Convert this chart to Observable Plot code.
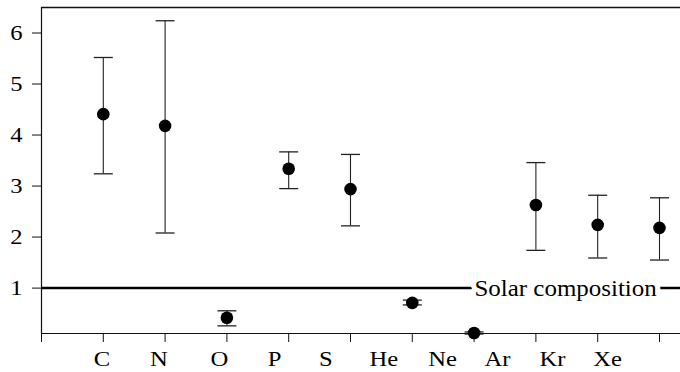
<!DOCTYPE html>
<html>
<head>
<meta charset="utf-8">
<script src="https://cdn.jsdelivr.net/npm/d3@7"></script>
<script src="https://cdn.jsdelivr.net/npm/@observablehq/plot@0.6"></script>
<style>
  html, body { margin: 0; padding: 0; background: #fff; overflow: hidden; }
  #chart svg { display: block; }
  #chart svg, #chart svg text { font-family: "Liberation Serif", "Times New Roman", serif !important; }
</style>
</head>
<body>
<div id="chart"></div>
<script>
// ---- data ----
const elements = ["C", "N", "O", "P", "S", "He", "Ne", "Ar", "Kr", "Xe"];
const slot     = [1, 2, 3, 4, 5, 6, 7, 8, 9, 10];
const ratio    = [4.41, 4.18, 0.42, 3.34, 2.94, 0.71, 0.12, 2.63, 2.24, 2.18];
const upper    = [5.52, 6.24, 0.555, 3.67, 3.62, 0.765, 0.14, 3.46, 2.82, 2.77];
const lower    = [3.24, 2.08, 0.26, 2.95, 2.22, 0.67, 0.10, 1.74, 1.59, 1.55];
const labelAt  = [0.98, 1.90, 2.88, 3.77, 4.60, 5.54, 6.49, 7.38, 8.27, 9.16];
const tickAt   = [0, 1, 2, 3, 4, 5, 6, 7, 8, 9, 10];
const yTicks   = [1, 2, 3, 4, 5, 6];
const xDomain  = [0, 10.34];
const yDomain  = [0.11, 6.5];
const solarLevel = 1;
const solarLabel = "Solar composition";
const solarLabelAt = 8.48;

const data = elements.map((el, i) => ({el, x: slot[i], v: ratio[i], lo: lower[i], hi: upper[i]}));
const solar = [{label: solarLabel, x: solarLabelAt, y: solarLevel}];

// horizontal cap symbol for error bars
const capSymbol = {
  draw(ctx, size) {
    const w = Math.sqrt(size / Math.PI);
    ctx.moveTo(-w, 0);
    ctx.lineTo(w, 0);
  }
};

const serif = "Liberation Serif";

const chart = Plot.plot({
  width: 680,
  height: 372,
  marginLeft: 41,
  marginRight: 0,
  marginTop: 7,
  marginBottom: 39,
  style: {fontFamily: serif, fontSize: "22px", color: "#000", background: "#fff"},
  x: {domain: xDomain},
  y: {domain: yDomain},
  marks: [
    Plot.axisY({ticks: yTicks, tickSize: 9, tickPadding: 10, label: null, fontSize: 22, fontFamily: serif,
                tickFormat: d => String(d), stroke: "#111"}),
    Plot.axisX({ticks: tickAt, tickSize: 9, tickFormat: () => "", label: null, stroke: "#111"}),
    Plot.axisX({ticks: labelAt, tickSize: 0, tickPadding: 17, label: null, fontSize: 22, fontFamily: serif,
                tickFormat: d => elements[labelAt.indexOf(d)]}),
    Plot.ruleX([xDomain[0]], {stroke: "#111", strokeWidth: 1.2}),
    Plot.ruleY([yDomain[0]], {stroke: "#111", strokeWidth: 1.2}),
    Plot.ruleY([yDomain[1]], {stroke: "#111", strokeWidth: 1.6}),
    Plot.ruleY([solarLevel], {stroke: "#000", strokeWidth: 2.5}),
    Plot.text(solar, {x: "x", y: "y", text: "label", fontSize: 24, fontFamily: serif, fill: "#000",
                      stroke: "#fff", strokeWidth: 10, paintOrder: "stroke", textAnchor: "middle"}),
    Plot.ruleX(data, {x: "x", y1: "lo", y2: "hi", stroke: "#222", strokeWidth: 1.1}),
    Plot.dot(data, {x: "x", y: "hi", symbol: capSymbol, r: 9.5, fill: "none", stroke: "#222", strokeWidth: 1.3}),
    Plot.dot(data, {x: "x", y: "lo", symbol: capSymbol, r: 9.5, fill: "none", stroke: "#222", strokeWidth: 1.3}),
    Plot.dot(data, {x: "x", y: "v", r: 6.3, fill: "#000", stroke: "none"})
  ]
});
document.getElementById("chart").appendChild(chart);

// the reference typeface is set a little wider than Times: stretch glyphs horizontally
chart.querySelectorAll("text").forEach(t => {
  const len = t.getComputedTextLength();
  if (len > 0) {
    const isSolar = t.textContent === solarLabel;
    t.setAttribute("textLength", (len * (isSolar ? 1.04 : 1.12)).toFixed(1));
    t.setAttribute("lengthAdjust", "spacingAndGlyphs");
  }
});
</script>
</body>
</html>
